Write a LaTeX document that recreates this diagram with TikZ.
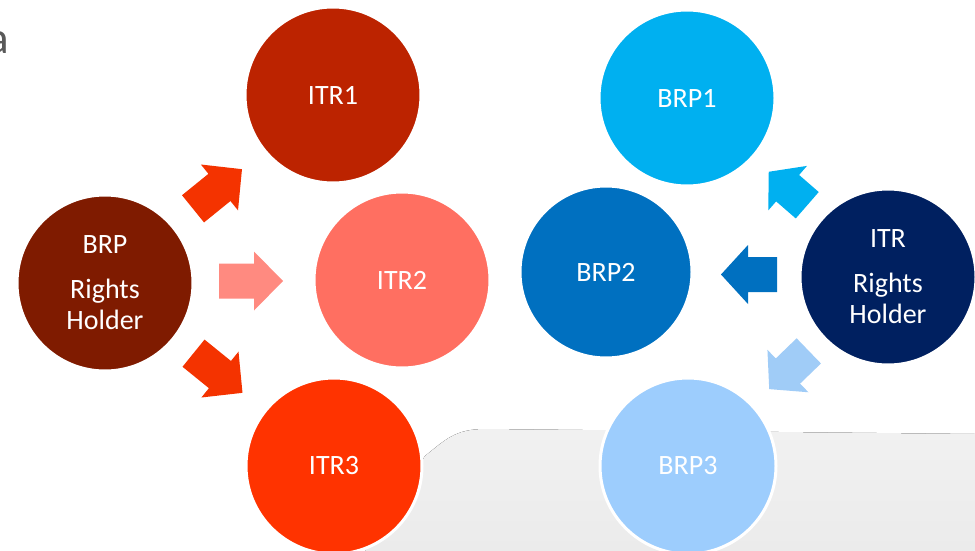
\documentclass[tikz,border=0pt]{standalone}
\usepackage{fontspec}
\setmainfont{Carlito}
\definecolor{brpdark}{HTML}{7F1B00}
\definecolor{itrone}{HTML}{BC2300}
\definecolor{itrtwo}{HTML}{FF6F61}
\definecolor{itrthree}{HTML}{FF3300}
\definecolor{arrred}{HTML}{F43300}
\definecolor{arrsalmon}{HTML}{FF8A80}
\definecolor{brpone}{HTML}{00B0F0}
\definecolor{brptwo}{HTML}{0070C0}
\definecolor{brpthree}{HTML}{9DCDFD}
\definecolor{arrlight}{HTML}{A0CCF7}
\definecolor{itrdark}{HTML}{002060}
\definecolor{bgtop}{HTML}{F1F1F1}
\definecolor{bgbot}{HTML}{EBEBEB}
\definecolor{textgray}{HTML}{595959}
% x, y, angle, length, head length, colour
\newcommand\blockarr[6]{%
  \fill[#6, shift={(#1,#2)}, rotate=#3]
    ({-#4/2},-17.5) -- ({#4/2-#5},-17.5) -- ({#4/2-#5},-29.5) -- ({#4/2},0)
    -- ({#4/2-#5},29.5) -- ({#4/2-#5},17.5) -- ({-#4/2},17.5) -- cycle;}
\begin{document}
\begin{tikzpicture}[x=1pt,y=-1pt,
  circ/.style={circle, draw=white, line width=3pt, minimum size=#1,
    inner sep=0pt, text=white, align=center,
    font=\fontsize{28}{31}\selectfont},
  circ/.default=176]
\useasboundingbox (0,0) rectangle (975,551);
\fill[white] (0,0) rectangle (975,551);
% background shape
\fill[top color=bgtop, bottom color=bgbot]
  (365,551) -- (425,456) .. controls (445,440) and (455,429) .. (485,429)
  -- (975,434) -- (975,551) -- cycle;
% cut-off letter
\node[anchor=base east, inner sep=0pt, text=textgray,
  font=\fontsize{45}{45}\selectfont] (cut) at (9,54) {a};
% block arrows
\blockarr{217.5}{189}{39}{63}{29}{arrred}
\blockarr{251}{281}{0}{64}{29}{arrsalmon}
\blockarr{218}{373}{-39}{63}{29}{arrred}
\blockarr{788}{188.5}{139}{51}{25}{brpone}
\blockarr{749}{274.5}{180}{56}{27}{brptwo}
\blockarr{789}{370}{224}{55}{26}{arrlight}
% circles
\node[circ, fill=brpdark] (brp) at (105,283) {BRP\\[14pt]Rights\\Holder};
\node[circ, fill=itrone] (itr1) at (333,95) {ITR1};
\node[circ, fill=itrtwo] (itr2) at (402,280) {ITR2};
\node[circ, fill=itrthree] (itr3) at (334,466) {ITR3};
\node[circ, fill=brpone] (brp1) at (687,98) {BRP1};
\node[circ=172, fill=brptwo] (brp2) at (606,272) {BRP2};
\node[circ, fill=brpthree] (brp3) at (688,466) {BRP3};
\node[circ, fill=itrdark] (itr) at (888,277) {ITR\\[14pt]Rights\\Holder};
\end{tikzpicture}
\end{document}
